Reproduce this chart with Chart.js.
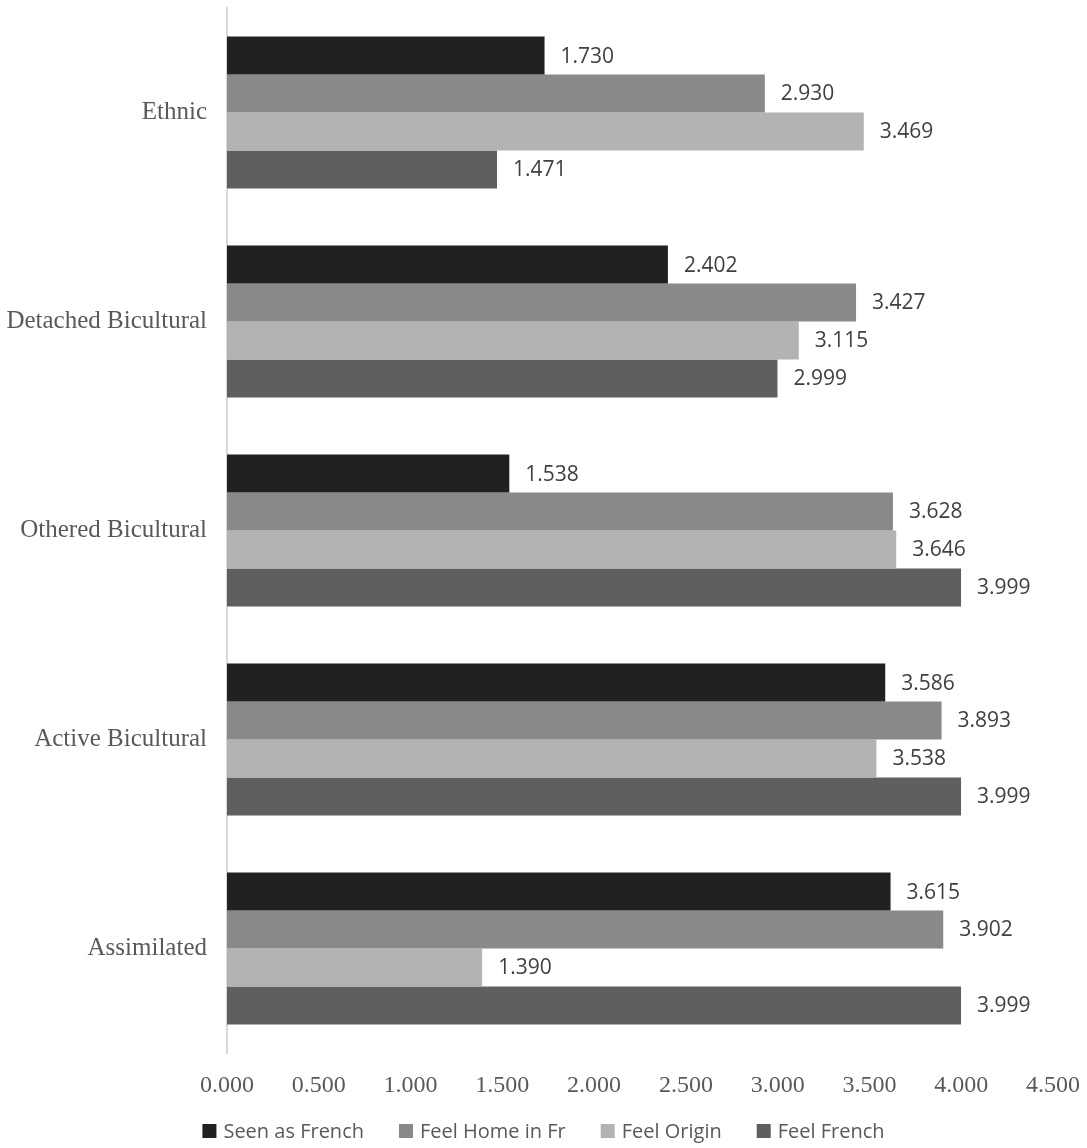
<!DOCTYPE html>
<html>
<head>
<meta charset="utf-8">
<script src="https://cdn.jsdelivr.net/npm/chart.js@4/dist/chart.umd.min.js"></script>
<style>
  html, body { margin: 0; padding: 0; background: #fff; }
  #wrap { width: 1087px; height: 1148px; }
</style>
</head>
<body>
<div id="wrap"><canvas id="chartPerfiles"></canvas></div>
<script>
const categorias = ['Ethnic', 'Detached Bicultural', 'Othered Bicultural', 'Active Bicultural', 'Assimilated'];
const seenAsFrench = [1.730, 2.402, 1.538, 3.586, 3.615];
const feelHomeInFr = [2.930, 3.427, 3.628, 3.893, 3.902];
const feelOrigin = [3.469, 3.115, 3.646, 3.538, 1.390];
const feelFrench = [1.471, 2.999, 3.999, 3.999, 3.999];
const serieNombres = ['Seen as French', 'Feel Home in Fr', 'Feel Origin', 'Feel French'];
const serieColores = ['#212121', '#898989', '#b3b3b3', '#5f5f5f'];
const tickValores = [0, 0.5, 1, 1.5, 2, 2.5, 3, 3.5, 4, 4.5];

const fuenteSerif = "'Liberation Serif', 'Times New Roman', serif";
const fuenteSans = "'Open Sans', 'Noto Sans', sans-serif";

const canvas = document.getElementById('chartPerfiles');
const context = canvas.getContext('2d');

// etiquetas de valor a la derecha de cada barra
const etiquetasValor = {
    id: 'etiquetasValor',
    afterDatasetsDraw(chart) {
        const ctx = chart.ctx;
        ctx.save();
        ctx.font = `21px ${fuenteSans}`;
        ctx.fillStyle = '#404040';
        ctx.textAlign = 'left';
        ctx.textBaseline = 'middle';
        chart.data.datasets.forEach((ds, i) => {
            chart.getDatasetMeta(i).data.forEach((bar, j) => {
                ctx.fillText(ds.data[j].toFixed(3), bar.x + 16, bar.y + 1);
            });
        });
        ctx.restore();
    }
};

// leyenda abajo, centrada
const leyenda = {
    id: 'leyenda',
    afterDraw(chart) {
        const ctx = chart.ctx;
        const box = 14, gapTexto = 7, gapItem = 35, y = 1131;
        ctx.save();
        ctx.font = `20px ${fuenteSans}`;
        ctx.textBaseline = 'middle';
        const anchos = chart.data.datasets.map(ds => box + gapTexto + ctx.measureText(ds.label).width);
        const total = anchos.reduce((a, b) => a + b, 0) + gapItem * (anchos.length - 1);
        let x = (chart.width - total) / 2;
        chart.data.datasets.forEach((ds, i) => {
            ctx.fillStyle = ds.backgroundColor;
            ctx.fillRect(x, y - box / 2, box, box);
            ctx.fillStyle = '#595959';
            ctx.fillText(ds.label, x + box + gapTexto, y + 1);
            x += anchos[i] + gapItem;
        });
        ctx.restore();
    }
};

const series = [seenAsFrench, feelHomeInFr, feelOrigin, feelFrench];

const chartPerfiles = new Chart(context, {
    type: 'bar',
    data: {
        labels: categorias,
        datasets: series.map((valores, i) => ({
            label: serieNombres[i],
            data: valores,
            backgroundColor: serieColores[i],
            borderWidth: 0,
            categoryPercentage: 0.727,
            barPercentage: 1
        }))
    },
    options: {
        indexAxis: 'y',
        responsive: true,
        maintainAspectRatio: false,
        animation: false,
        layout: { padding: { top: 8, right: 34, bottom: 0, left: 0 } },
        plugins: {
            legend: { display: false },
            tooltip: { enabled: false }
        },
        scales: {
            x: {
                min: 0,
                max: 4.5,
                afterBuildTicks: (scale) => {
                    scale.ticks = tickValores.map(v => ({ value: v }));
                },
                afterFit: (scale) => {
                    scale.height = 95;
                    scale.paddingLeft = 0;
                    scale.paddingRight = 0;
                },
                grid: { display: false, drawTicks: false },
                border: { display: false },
                ticks: {
                    padding: 18,
                    color: '#595959',
                    font: { family: fuenteSerif, size: 24 },
                    callback: (v) => Number(v).toFixed(3)
                }
            },
            y: {
                afterFit: (scale) => {
                    scale.width = 227;
                    scale.paddingTop = 0;
                    scale.paddingBottom = 0;
                },
                grid: { display: false, drawTicks: false },
                border: { display: true, color: '#d9d9d9', width: 2 },
                ticks: {
                    padding: 20,
                    color: '#595959',
                    font: { family: fuenteSerif, size: 25 }
                }
            }
        }
    },
    plugins: [etiquetasValor, leyenda]
});
</script>
</body>
</html>
